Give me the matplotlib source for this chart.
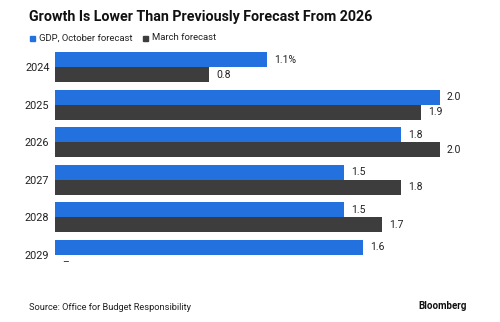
import matplotlib
matplotlib.use("Agg")
import matplotlib.pyplot as plt
import numpy as np
from matplotlib.patches import Rectangle

years = ["2024", "2025", "2026", "2027", "2028", "2029"]
october = [1.1, 2.0, 1.8, 1.5, 1.5, 1.6]
march = [0.8, 1.9, 2.0, 1.8, 1.7, None]
october_labels = ["1.1%", "2.0", "1.8", "1.5", "1.5", "1.6"]
march_labels = ["0.8", "1.9", "2.0", "1.8", "1.7", "–"]

BLUE = "#2271DF"
DARK = "#3D3D3D"
TXT = "#222222"
FONT = "Roboto"

fig = plt.figure(figsize=(5, 3.22), dpi=100)
ax = fig.add_axes([0.11, 0.15, 0.85, 0.70])

y = np.arange(len(years))
h = 0.4
oct_vals = np.array(october, dtype=float)
mar_vals = np.array([v if v is not None else 0 for v in march], dtype=float)

ax.barh(y - h / 2, oct_vals, height=h, color=BLUE, edgecolor="none")
ax.barh(y + h / 2, mar_vals, height=h, color=DARK, edgecolor="none")

for i in range(len(years)):
    ax.annotate(october_labels[i], (oct_vals[i], y[i] - h / 2), xytext=(5, 0),
                textcoords="offset points", va="center", ha="left",
                fontsize=7.5, color=TXT, family=FONT)
    ax.annotate(march_labels[i], (mar_vals[i], y[i] + h / 2), xytext=(5, 0),
                textcoords="offset points", va="center", ha="left",
                fontsize=7.5, color=TXT, family=FONT)

ax.set_xlim(0, 2.208)
ax.set_ylim(len(years) - 0.5, -0.5)
ax.set_yticks(y)
ax.set_yticklabels(years, fontsize=7.8, color=TXT, family=FONT)
ax.tick_params(axis="y", length=0, pad=4)
ax.set_xticks([])
for s in ax.spines.values():
    s.set_visible(False)

fig.text(29 / 500, 1 - 17 / 322, "Growth Is Lower Than Previously Forecast From 2026",
         fontsize=10.3, fontweight="bold", family=FONT, color="#111111", va="center", ha="left")

# legend
fig.patches.append(Rectangle((30 / 500, 1 - 40.5 / 322), 5 / 500, 5 / 322,
                             transform=fig.transFigure, color=BLUE, figure=fig))
fig.text(39 / 500, 1 - 38 / 322, "GDP, October forecast", fontsize=6.8, family=FONT,
         color=TXT, va="center", ha="left")
fig.patches.append(Rectangle((143 / 500, 1 - 40.5 / 322), 5 / 500, 5 / 322,
                             transform=fig.transFigure, color=DARK, figure=fig))
fig.text(152 / 500, 1 - 38 / 322, "March forecast", fontsize=6.8, family=FONT,
         color=TXT, va="center", ha="left")

fig.text(29 / 500, 1 - 307 / 322, "Source: Office for Budget Responsibility", fontsize=6.7,
         family=FONT, color=TXT, va="center", ha="left")
fig.text(467 / 500, 1 - 306 / 322, "Bloomberg", fontsize=7, fontweight="bold",
         family=FONT, color="#111111", va="center", ha="right")

fig.savefig("out.png", dpi=100, facecolor="white")
